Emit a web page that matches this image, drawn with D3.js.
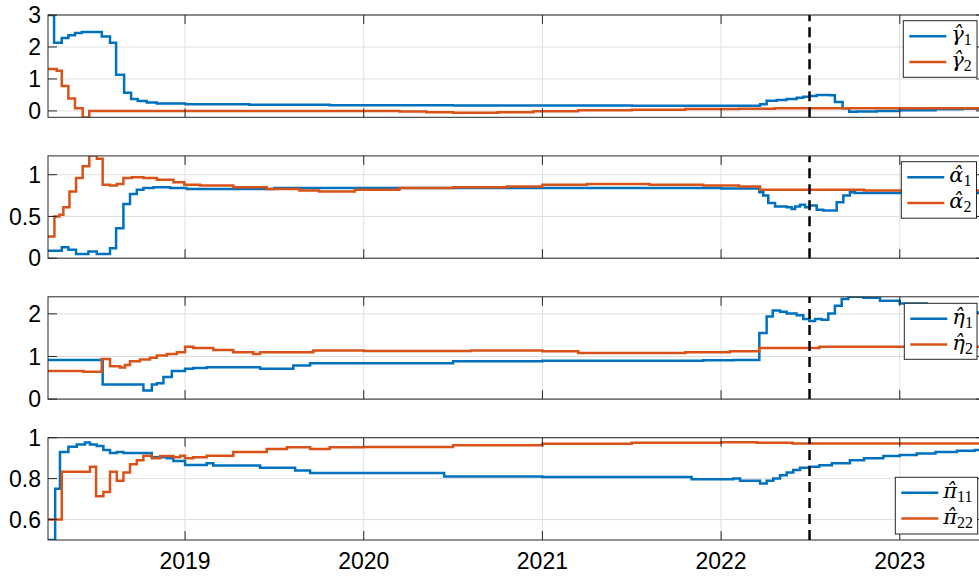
<!DOCTYPE html>
<html>
<head>
<meta charset="utf-8">
<script src="https://cdn.jsdelivr.net/npm/d3@7"></script>
<style>
  body { margin: 0; background: #fff; }
  svg { display: block; }
</style>
</head>
<body>
<svg id="chart" width="979" height="577"></svg>
<script>
// Time axis (decimal years) and the marked date
const yearTicks = [2019, 2020, 2021, 2022, 2023];
const xStart = 2018.233, xEnd = 2023.477;
const breakYear = 2022.495;

// Step estimates: [decimal year, value]; each value holds until the next point
const gamma1 = [[2018.233,3.0],[2018.267,2.13],[2018.310,2.28],[2018.347,2.37],[2018.384,2.44],[2018.422,2.47],
  [2018.534,2.33],[2018.580,2.13],[2018.614,1.13],[2018.659,0.57],[2018.698,0.37],[2018.735,0.31],[2018.786,0.26],
  [2018.842,0.23],[2019.0,0.21],[2019.36,0.19],[2019.81,0.18],[2020.5,0.17],[2021.5,0.16],[2022.218,0.21],
  [2022.255,0.32],[2022.311,0.34],[2022.367,0.37],[2022.423,0.41],[2022.460,0.44],[2022.494,0.47],[2022.535,0.50],
  [2022.609,0.49],[2022.637,0.28],[2022.680,0.08],[2022.717,-0.03],[2022.759,-0.02],[2022.871,0.0],[2023.0,0.02],
  [2023.2,0.05],[2023.35,0.07]];
const gamma2 = [[2018.233,1.31],[2018.282,1.26],[2018.310,0.78],[2018.347,0.39],[2018.384,0.08],[2018.427,-0.21],
  [2018.464,0.0],[2020.2,-0.02],[2020.35,-0.04],[2020.5,-0.06],[2020.75,-0.04],[2020.95,-0.01],[2021.2,0.02],
  [2021.5,0.04],[2021.8,0.06],[2022.1,0.07],[2022.3,0.08]];

const alpha1 = [[2018.233,0.09],[2018.310,0.13],[2018.347,0.10],[2018.390,0.05],[2018.459,0.08],[2018.506,0.05],
  [2018.580,0.12],[2018.614,0.36],[2018.655,0.65],[2018.692,0.77],[2018.730,0.82],[2018.767,0.84],[2018.823,0.85],
  [2018.916,0.84],[2019.01,0.83],[2019.5,0.84],[2022.0,0.835],[2022.214,0.79],[2022.236,0.75],[2022.264,0.66],
  [2022.302,0.62],[2022.367,0.61],[2022.395,0.59],[2022.414,0.62],[2022.442,0.64],[2022.470,0.61],[2022.497,0.63],
  [2022.535,0.58],[2022.572,0.57],[2022.647,0.67],[2022.684,0.75],[2022.721,0.79],[2022.749,0.78]];
const alpha2 = [[2018.233,0.26],[2018.269,0.50],[2018.297,0.52],[2018.319,0.61],[2018.353,0.80],[2018.390,0.96],
  [2018.427,1.10],[2018.464,1.23],[2018.506,1.19],[2018.539,0.88],[2018.580,0.87],[2018.618,0.89],[2018.655,0.96],
  [2018.702,0.97],[2018.767,0.96],[2018.842,0.94],[2018.935,0.91],[2018.996,0.88],[2019.084,0.87],[2019.27,0.85],
  [2019.457,0.83],[2019.64,0.81],[2019.75,0.80],[2019.95,0.82],[2020.2,0.84],[2020.5,0.85],[2020.8,0.86],
  [2021.0,0.88],[2021.25,0.89],[2021.6,0.88],[2021.9,0.87],[2022.1,0.86],[2022.218,0.82],[2022.8,0.81]];

const eta1 = [[2018.233,0.92],[2018.539,0.34],[2018.767,0.20],[2018.814,0.34],[2018.842,0.37],[2018.879,0.52],
  [2018.926,0.66],[2019.0,0.71],[2019.046,0.73],[2019.121,0.75],[2019.42,0.71],[2019.606,0.79],[2019.70,0.84],
  [2020.5,0.89],[2021.0,0.90],[2021.9,0.91],[2022.068,0.92],[2022.214,1.55],[2022.255,1.94],[2022.289,2.08],
  [2022.330,2.05],[2022.367,2.01],[2022.423,1.97],[2022.460,1.88],[2022.494,1.83],[2022.526,1.88],[2022.563,1.86],
  [2022.600,2.01],[2022.637,2.19],[2022.675,2.35],[2022.712,2.40],[2022.796,2.38],[2022.889,2.31],[2023.0,2.24],
  [2023.15,2.15],[2023.3,2.08],[2023.42,2.03]];
const eta2 = [[2018.233,0.66],[2018.431,0.64],[2018.534,0.94],[2018.580,0.77],[2018.636,0.74],[2018.664,0.80],
  [2018.692,0.89],[2018.748,0.93],[2018.804,0.97],[2018.842,1.02],[2018.898,1.06],[2018.954,1.10],[2019.0,1.23],
  [2019.046,1.20],[2019.158,1.15],[2019.27,1.10],[2019.382,1.06],[2019.42,1.10],[2019.718,1.14],[2020.0,1.13],
  [2020.6,1.14],[2021.0,1.12],[2021.2,1.08],[2021.8,1.10],[2022.05,1.12],[2022.214,1.20],[2022.55,1.23]];

const pi11 = [[2018.233,0.5],[2018.273,0.75],[2018.30,0.93],[2018.347,0.956],[2018.394,0.967],[2018.44,0.977],
  [2018.468,0.967],[2018.506,0.96],[2018.543,0.94],[2018.580,0.925],[2018.618,0.93],[2018.655,0.925],
  [2018.814,0.904],[2018.898,0.90],[2018.935,0.886],[2019.0,0.866],[2019.121,0.875],[2019.158,0.864],
  [2019.42,0.853],[2019.616,0.84],[2019.70,0.827],[2020.45,0.81],[2021.0,0.808],[2021.835,0.797],[2022.068,0.80],
  [2022.106,0.79],[2022.218,0.776],[2022.255,0.79],[2022.292,0.80],[2022.330,0.817],[2022.367,0.83],
  [2022.404,0.842],[2022.442,0.853],[2022.494,0.858],[2022.55,0.865],[2022.62,0.875],[2022.721,0.89],
  [2022.8,0.90],[2022.908,0.91],[2023.0,0.916],[2023.095,0.923],[2023.2,0.93],[2023.32,0.936],[2023.42,0.94]];
const pi22 = [[2018.233,0.6],[2018.31,0.833],[2018.468,0.858],[2018.502,0.714],[2018.543,0.735],[2018.580,0.833],
  [2018.618,0.79],[2018.655,0.83],[2018.692,0.87],[2018.730,0.89],[2018.767,0.912],[2018.814,0.90],[2018.86,0.91],
  [2018.935,0.905],[2018.972,0.912],[2019.0,0.90],[2019.046,0.905],[2019.121,0.912],[2019.27,0.93],
  [2019.457,0.945],[2019.57,0.953],[2019.70,0.945],[2019.81,0.953],[2020.0,0.955],[2020.5,0.963],[2021.0,0.97],
  [2021.5,0.975],[2022.0,0.978],[2022.2,0.975],[2022.4,0.972]];

// Axis ranges and tick values for each panel
const yDomains = [[-0.2, 3], [0, 1.225], [0, 2.4], [0.5, 1]];
const yTickSets = [[0, 1, 2, 3], [0, 0.5, 1], [0, 1, 2], [0.6, 0.8, 1]];
// legend symbols: letter with combining circumflex (hat), plus subscript
const symbols = [["γ\u0302", "γ\u0302"], ["α\u0302", "α\u0302"], ["η\u0302", "η\u0302"], ["π\u0302", "π\u0302"]];
const subscripts = [["1", "2"], ["1", "2"], ["1", "2"], ["11", "22"]];

const colors = ["#0072BD", "#D95319"];
const seriesByPanel = [[gamma1, gamma2], [alpha1, alpha2], [eta1, eta2], [pi11, pi22]];

// Layout
const plotLeft = 48, plotRight = 985;
const panelTop0 = 15, panelStep = 140.9, panelH = 102.3;
const tickLen = 9;
const legendBoxes = [
  { x0: 903.3, x1: 977, y0: 20.7, h: 56.6 },
  { x0: 901.3, x1: 976.5, y0: 161.7, h: 56.5 },
  { x0: 904.3, x1: 977, y0: 303.3, h: 56 },
  { x0: 895.3, x1: 977.7, y0: 477.3, h: 56.7 }
];

const svg = d3.select("#chart");
const x = d3.scaleLinear().domain([xStart, xEnd]).range([plotLeft, plotRight]);
const axisColor = "#262626";
const gridColor = "#dfdfdf";
const tickFont = "'Liberation Sans', Arial, Helvetica, sans-serif";
const mathFont = "'DejaVu Serif', 'Liberation Serif', serif";

seriesByPanel.forEach((series, i) => {
  const top = panelTop0 + i * panelStep;
  const bottom = top + panelH;
  const y = d3.scaleLinear().domain(yDomains[i]).range([bottom, top]);
  const g = svg.append("g");

  // grid
  g.selectAll(".gx").data(yearTicks).join("line")
    .attr("x1", d => x(d)).attr("x2", d => x(d))
    .attr("y1", top).attr("y2", bottom)
    .attr("stroke", gridColor).attr("stroke-width", 1);
  g.selectAll(".gy").data(yTickSets[i]).join("line")
    .attr("x1", plotLeft).attr("x2", plotRight)
    .attr("y1", d => y(d)).attr("y2", d => y(d))
    .attr("stroke", gridColor).attr("stroke-width", 1);

  // series
  const clipId = "clip" + i;
  svg.append("clipPath").attr("id", clipId).append("rect")
    .attr("x", plotLeft).attr("y", top).attr("width", plotRight - plotLeft).attr("height", panelH);
  const line = d3.line().x(d => x(d[0])).y(d => y(d[1])).curve(d3.curveStepAfter);
  const lines = g.append("g").attr("clip-path", `url(#${clipId})`);
  series.forEach((s, k) => {
    const pts = s.concat([[xEnd, s[s.length - 1][1]]]);
    lines.append("path").datum(pts)
      .attr("d", line)
      .attr("fill", "none")
      .attr("stroke", colors[k])
      .attr("stroke-width", 2.5)
      .attr("stroke-linejoin", "miter");
  });

  // dashed marker
  g.append("line")
    .attr("x1", x(breakYear)).attr("x2", x(breakYear))
    .attr("y1", bottom).attr("y2", top)
    .attr("stroke", "#000").attr("stroke-width", 2.5)
    .attr("stroke-dasharray", "10,6");

  // axes box
  g.append("rect")
    .attr("x", plotLeft).attr("y", top)
    .attr("width", plotRight - plotLeft).attr("height", panelH)
    .attr("fill", "none").attr("stroke", axisColor).attr("stroke-width", 1);

  // inward tick marks
  yearTicks.forEach(t => {
    g.append("line").attr("x1", x(t)).attr("x2", x(t)).attr("y1", bottom).attr("y2", bottom - tickLen)
      .attr("stroke", axisColor);
    g.append("line").attr("x1", x(t)).attr("x2", x(t)).attr("y1", top).attr("y2", top + tickLen)
      .attr("stroke", axisColor);
  });
  yTickSets[i].forEach(t => {
    g.append("line").attr("x1", plotLeft).attr("x2", plotLeft + tickLen).attr("y1", y(t)).attr("y2", y(t))
      .attr("stroke", axisColor);
    g.append("line").attr("x1", plotRight).attr("x2", plotRight - tickLen).attr("y1", y(t)).attr("y2", y(t))
      .attr("stroke", axisColor);
  });

  // y tick labels
  g.selectAll(".yl").data(yTickSets[i]).join("text")
    .attr("x", plotLeft - 7).attr("y", d => y(d))
    .attr("dy", "0.36em")
    .attr("text-anchor", "end")
    .attr("font-family", tickFont).attr("font-size", 23)
    .attr("fill", "#000")
    .text(d => String(d));

  // x tick labels on the bottom panel
  if (i === seriesByPanel.length - 1) {
    g.selectAll(".xl").data(yearTicks).join("text")
      .attr("x", d => x(d)).attr("y", bottom + 29)
      .attr("text-anchor", "middle")
      .attr("font-family", tickFont).attr("font-size", 23)
      .attr("fill", "#000")
      .text(d => String(d));
  }

  // legend
  const lb = legendBoxes[i];
  const lg = g.append("g");
  lg.append("rect").attr("x", lb.x0).attr("y", lb.y0)
    .attr("width", lb.x1 - lb.x0).attr("height", lb.h)
    .attr("fill", "#fff").attr("stroke", axisColor).attr("stroke-width", 1);
  [0, 1].forEach(k => {
    const ry = lb.y0 + 15.5 + k * 25.8;
    lg.append("line").attr("x1", lb.x0 + 6).attr("x2", lb.x0 + 43)
      .attr("y1", ry).attr("y2", ry)
      .attr("stroke", colors[k]).attr("stroke-width", 2.5);
    const t = lg.append("text").attr("x", lb.x0 + 48).attr("y", ry + 5)
      .attr("font-family", mathFont).attr("fill", "#000");
    t.append("tspan").attr("font-style", "italic").attr("font-size", 21).text(symbols[i][k]);
    t.append("tspan").attr("font-family", "'Liberation Serif', serif")
      .attr("font-size", 16).attr("dy", 4).text(subscripts[i][k]);
  });
});
</script>
</body>
</html>
